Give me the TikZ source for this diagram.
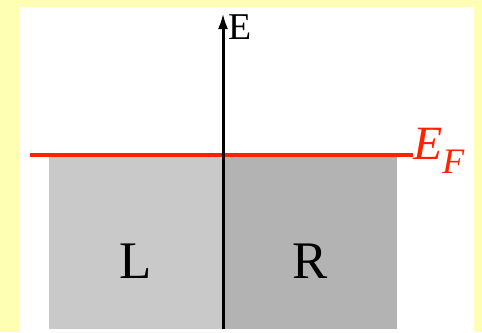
\documentclass[tikz,border=0pt]{standalone}
\usepackage{fontspec}
\setmainfont{Liberation Serif}
\definecolor{pagebg}{HTML}{FFFFB3}
\definecolor{lightgray}{HTML}{C9C9C9}
\definecolor{darkgray}{HTML}{B3B3B3}
\definecolor{fermired}{HTML}{FF2200}
\tikzset{
    side/.style={font=\fontsize{53}{53}\selectfont},
    axis/.style={line width=3bp,-{Latex[length=16bp,width=10bp]}},
}
\usetikzlibrary{arrows.meta}
\begin{document}
\begin{tikzpicture}[x=1bp,y=-1bp]
        \useasboundingbox (0,0) rectangle (482,332);
        \fill[pagebg] (0,0) rectangle (482,332);
        \fill[white] (20,7) rectangle (474,332);

        \fill[lightgray] (49,156) rectangle (223,329);
        \fill[darkgray] (223,156) rectangle (397,329);

        \node[side] (L) at (136,261) {L};
        \node[side] (R) at (310,261) {R};

        \coordinate (fermileft) at (30,155);
        \coordinate (fermiright) at (413,155);
        \draw[fermired,line width=4bp] (fermileft) -- (fermiright);
        \node[fermired,anchor=west,inner sep=0pt,font=\fontsize{48}{48}\selectfont\itshape] (EF) at ([yshift=4bp]fermiright)
            {E\raisebox{-0.28em}{\fontsize{36}{36}\selectfont F}};

        \coordinate (axisbot) at (223,329);
        \coordinate (axistop) at (223,13);
        \draw[axis] (axisbot) -- (axistop);
        \node[anchor=north west,inner sep=0pt,font=\fontsize{38}{38}\selectfont] (E) at ([xshift=5bp,yshift=-2bp]axistop) {E};
    \end{tikzpicture}
\end{document}
